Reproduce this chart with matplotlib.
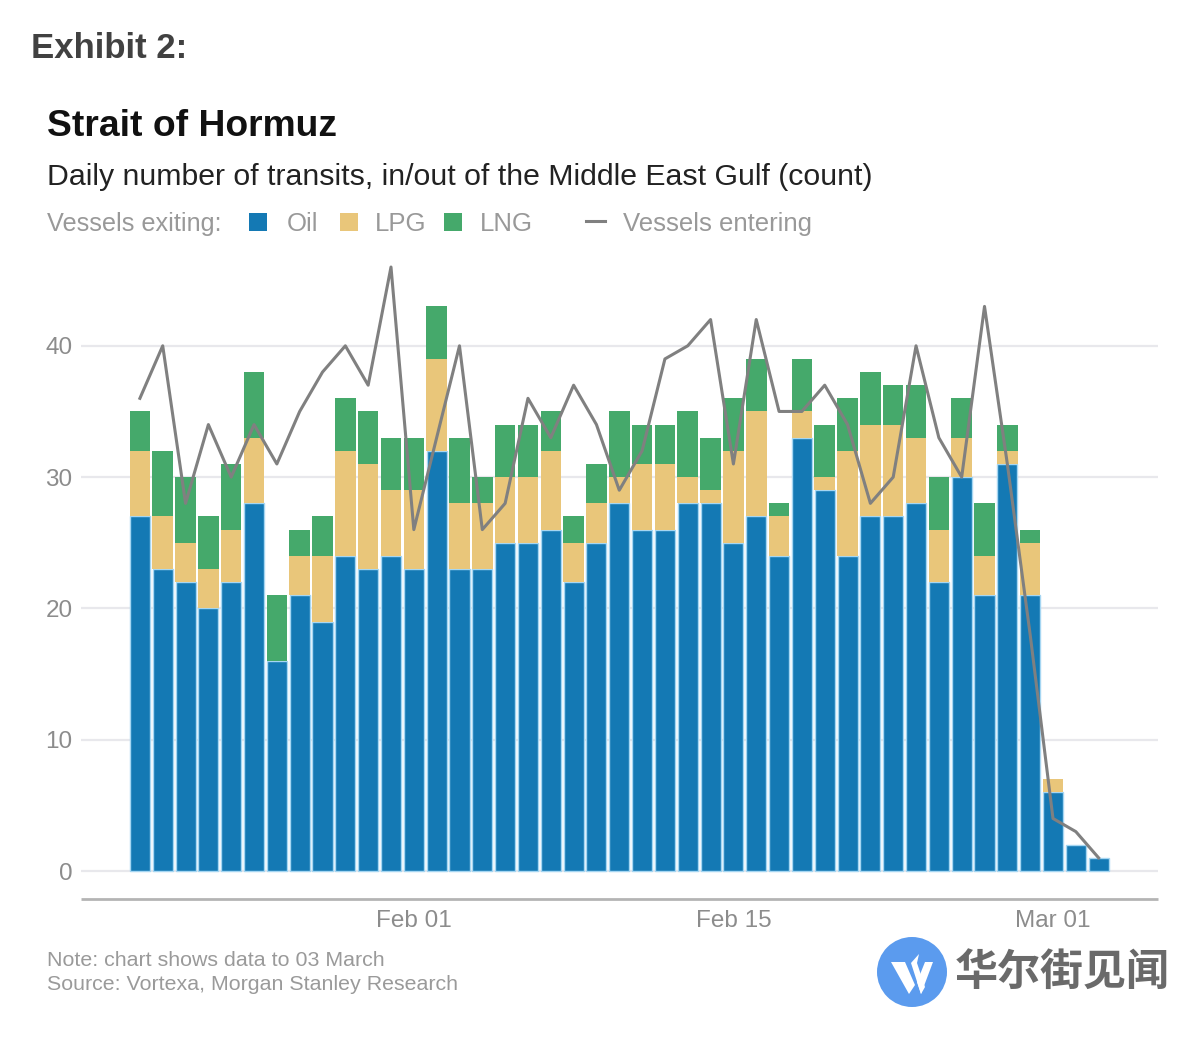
import pandas as pd
import matplotlib.pyplot as plt
import matplotlib.dates as mdates
from matplotlib.patches import Circle, Polygon, Rectangle

W, H = 1200, 1038

dates = pd.date_range("2026-01-20", "2026-03-03")
oil = [27, 23, 22, 20, 22, 28, 16, 21, 19, 24, 23, 24, 23, 32, 23, 23, 25, 25, 26, 22, 25, 28,
       26, 26, 28, 28, 25, 27, 24, 33, 29, 24, 27, 27, 28, 22, 30, 21, 31, 21, 6, 2, 1]
lpg = [5, 4, 3, 3, 4, 5, 0, 3, 5, 8, 8, 5, 6, 7, 5, 5, 5, 5, 6, 3, 3, 2,
       5, 5, 2, 1, 7, 8, 3, 2, 1, 8, 7, 7, 5, 4, 3, 3, 1, 4, 1, 0, 0]
lng = [3, 5, 5, 4, 5, 5, 5, 2, 3, 4, 4, 4, 4, 4, 5, 2, 4, 4, 3, 2, 3, 5,
       3, 3, 5, 4, 4, 4, 1, 4, 4, 4, 4, 3, 4, 4, 3, 4, 2, 1, 0, 0, 0]
entering = [36, 40, 28, 34, 30, 34, 31, 35, 38, 40, 37, 46, 26, 33, 40, 26, 28, 36, 33, 37, 34, 29,
            32, 39, 40, 42, 31, 42, 35, 35, 37, 34, 28, 30, 40, 33, 30, 43, 31, 18, 4, 3, 1]
y_ticks = [0, 10, 20, 30, 40]
x_ticks = ["2026-02-01", "2026-02-15", "2026-03-01"]

BLUE = "#1479b4"
SAND = "#e9c67a"
GREEN = "#45a96b"
LINE = "#808080"
FONT = "Liberation Sans"

fig = plt.figure(figsize=(W / 100, H / 100), dpi=100)

# pixel overlay for the legend swatches and the logo
over = fig.add_axes([0, 0, 1, 1], zorder=3)
over.set_xlim(0, W)
over.set_ylim(H, 0)
over.axis("off")

left, right, top, bottom = 81, 1158, 250, 899
ax = fig.add_axes([left / W, 1 - bottom / H, (right - left) / W, (bottom - top) / H])

oil_arr = pd.Series(oil)
lpg_arr = pd.Series(lpg)
ax.bar(dates, oil, width=0.88, color=BLUE, edgecolor="#a5d6f2", lw=1, zorder=2)
ax.bar(dates, lpg, width=0.9, bottom=oil_arr, color=SAND, zorder=2)
ax.bar(dates, lng, width=0.9, bottom=oil_arr + lpg_arr, color=GREEN, zorder=2)
ax.plot(dates, entering, color=LINE, lw=2.2, zorder=3)

ax.set_xlim(dates[0] - pd.Timedelta(days=2.58), dates[0] + pd.Timedelta(days=44.6))
ax.set_ylim((871 - bottom) / 13.13, (871 - top) / 13.13)
ax.set_yticks(y_ticks)
ax.set_xticks(pd.to_datetime(x_ticks))
ax.xaxis.set_major_formatter(mdates.DateFormatter("%b %d"))
ax.grid(axis="y", color="#e8e8ec", lw=1.6, zorder=0)
ax.tick_params(length=0, labelcolor="#8c8c8c", labelsize=17.5, pad=6)
ax.tick_params(axis="x", pad=8)
for lab in ax.get_xticklabels() + ax.get_yticklabels():
    lab.set_family(FONT)
for side in ["top", "left", "right"]:
    ax.spines[side].set_visible(False)
ax.spines["bottom"].set_color("#b4b4b4")
ax.spines["bottom"].set_linewidth(2)
ax.spines["bottom"].set_capstyle("butt")


def label(x, y, s, size, color, weight="normal", family=FONT):
    over.text(x, y, s, fontsize=size, color=color, fontweight=weight, family=family, va="center", ha="left")


label(31, 48, "Exhibit 2:", 25, "#414141", "bold")
label(47, 127, "Strait of Hormuz", 26.8, "#111111", "bold")
label(47, 177, "Daily number of transits, in/out of the Middle East Gulf (count)", 21.8, "#222222")

# legend
label(47, 224, "Vessels exiting:", 18.2, "#999999")
for x0, col, x1, name in [(249, BLUE, 287, "Oil"), (340, SAND, 375, "LPG"), (444, GREEN, 480, "LNG")]:
    over.add_patch(Rectangle((x0, 213), 18, 18, color=col, lw=0))
    label(x1, 224, name, 18.5, "#999999")
over.plot([586, 605], [221, 221], color=LINE, lw=2.2)
label(623, 224, "Vessels entering", 18.5, "#999999")

label(47, 961, "Note: chart shows data to 03 March", 15.4, "#9a9a9a")
label(47, 984, "Source: Vortexa, Morgan Stanley Research", 15.4, "#9a9a9a")

# watermark logo
over.add_patch(Circle((912, 972), 35, color="#5b9bee", lw=0))
over.add_patch(Polygon([[891, 962], [905, 962], [915, 985], [909, 994]], color="white", lw=0))
over.add_patch(Polygon([[911, 963], [919, 954], [917, 963], [925, 987], [921, 994]], color="white", lw=0))
over.add_patch(Polygon([[921, 994], [933, 962], [925, 962], [917, 982]], color="white", lw=0))
label(955, 972, "华尔街见闻", 31, "#6a6a6a", "bold", "Noto Sans CJK SC")

fig.savefig("out.png", dpi=100, facecolor="white")
